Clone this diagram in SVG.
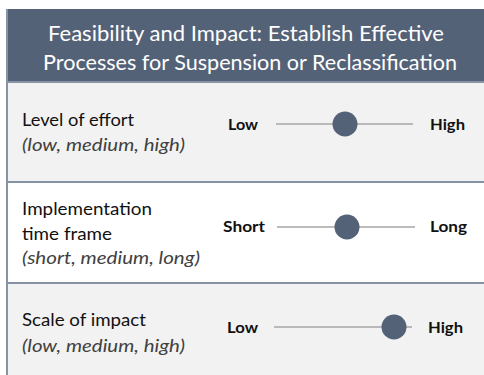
<svg xmlns="http://www.w3.org/2000/svg" width="484" height="375" viewBox="0 0 484 375">
<style>
.hdr{fill:#546278}
.row-g{fill:#f2f2f2}
.row-w{fill:#ffffff}
.sep{stroke:#8793a5;stroke-width:2}
.title{font-family:Lato,"Open Sans",sans-serif;font-size:21px;fill:#ffffff;text-anchor:middle}
.lbl{font-family:Lato,"Open Sans",sans-serif;font-size:17px;fill:#111111}
.sub{font-family:Lato,"Open Sans",sans-serif;font-size:17px;font-style:italic;fill:#404040}
.end{font-family:Lato,"Open Sans",sans-serif;font-size:15px;font-weight:bold;fill:#111111}
.track{stroke:#a6a6a6;stroke-width:1.5}
.knob{fill:#546278}
</style>
<rect x="0" y="0" width="484" height="375" fill="#ffffff"/>
<g id="header">
<rect class="hdr" x="6" y="9" width="478" height="73"/>
<text class="title" x="246" y="41" textLength="396" lengthAdjust="spacingAndGlyphs">Feasibility and Impact: Establish Effective</text>
<text class="title" x="250" y="70" textLength="414" lengthAdjust="spacingAndGlyphs">Processes for Suspension or Reclassification</text>
</g>
<g id="row-effort">
<rect class="row-g" x="7" y="82" width="477" height="99"/>
<text class="lbl" x="22" y="126" textLength="112" lengthAdjust="spacingAndGlyphs">Level of effort</text>
<text class="sub" x="22" y="151" textLength="163" lengthAdjust="spacingAndGlyphs">(low, medium, high)</text>
<text class="end" x="228" y="130" textLength="30" lengthAdjust="spacingAndGlyphs">Low</text>
<text class="end" x="430" y="130" textLength="35" lengthAdjust="spacingAndGlyphs">High</text>
<line class="track" x1="276" y1="124" x2="413" y2="124"/>
<circle class="knob" cx="345" cy="124" r="12.5"/>
</g>
<g id="row-time">
<rect class="row-w" x="7" y="182" width="477" height="100"/>
<text class="lbl" x="22" y="215" textLength="130" lengthAdjust="spacingAndGlyphs">Implementation</text>
<text class="lbl" x="22" y="240" textLength="90" lengthAdjust="spacingAndGlyphs">time frame</text>
<text class="sub" x="22" y="264" textLength="178" lengthAdjust="spacingAndGlyphs">(short, medium, long)</text>
<text class="end" x="223" y="232" textLength="42" lengthAdjust="spacingAndGlyphs">Short</text>
<text class="end" x="430" y="232" textLength="37" lengthAdjust="spacingAndGlyphs">Long</text>
<line class="track" x1="277" y1="227" x2="415" y2="227"/>
<circle class="knob" cx="347" cy="227" r="12.5"/>
</g>
<g id="row-impact">
<rect class="row-g" x="7" y="283" width="477" height="92"/>
<text class="lbl" x="22" y="326" textLength="124" lengthAdjust="spacingAndGlyphs">Scale of impact</text>
<text class="sub" x="22" y="352" textLength="163" lengthAdjust="spacingAndGlyphs">(low, medium, high)</text>
<text class="end" x="227" y="333" textLength="31" lengthAdjust="spacingAndGlyphs">Low</text>
<text class="end" x="428" y="333" textLength="35" lengthAdjust="spacingAndGlyphs">High</text>
<line class="track" x1="274" y1="327" x2="412" y2="327"/>
<circle class="knob" cx="394" cy="327" r="12.5"/>
</g>
<g id="connectors">
<line class="sep" x1="6" y1="82" x2="484" y2="82"/>
<line class="sep" x1="6" y1="182" x2="484" y2="182"/>
<line class="sep" x1="6" y1="283" x2="484" y2="283"/>
<line class="sep" x1="7" y1="9" x2="7" y2="375"/>
</g>
</svg>
